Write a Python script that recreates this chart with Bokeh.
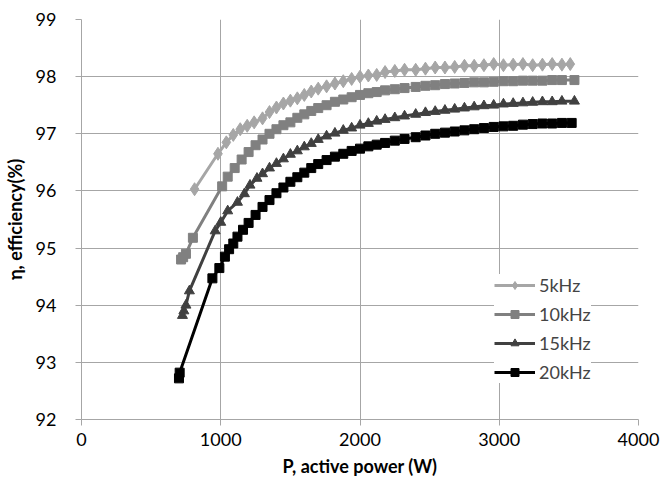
from bokeh.plotting import figure
from bokeh.models import Range1d, FixedTicker, Legend, LegendItem
from bokeh.embed import file_html
from bokeh.resources import INLINE

# ---- data ----
p5_x = [812, 980, 1040, 1090, 1140, 1190, 1240, 1300, 1350, 1400, 1450, 1500, 1550, 1600,
        1650, 1700, 1760, 1820, 1880, 1940, 2000, 2060, 2120, 2180, 2250, 2320, 2400, 2470,
        2540, 2610, 2680, 2750, 2820, 2890, 2960, 3030, 3100, 3170, 3240, 3310, 3380, 3450, 3510]
eff5 = [96.03, 96.65, 96.85, 96.98, 97.08, 97.14, 97.20, 97.27, 97.38, 97.46, 97.53, 97.58, 97.62, 97.68,
        97.74, 97.79, 97.83, 97.88, 97.92, 97.96, 98.00, 98.02, 98.03, 98.08, 98.10, 98.12, 98.12, 98.14,
        98.16, 98.16, 98.17, 98.19, 98.19, 98.20, 98.22, 98.20, 98.21, 98.22, 98.20, 98.21, 98.22, 98.21, 98.22]

p10_x = [715, 730, 750, 800, 1010, 1050, 1100, 1150, 1200, 1250, 1300, 1350, 1400, 1450, 1500, 1550,
         1600, 1650, 1700, 1760, 1820, 1880, 1940, 2000, 2060, 2120, 2180, 2250, 2320, 2400, 2470,
         2540, 2610, 2680, 2750, 2820, 2890, 2960, 3030, 3100, 3170, 3240, 3310, 3380, 3450, 3540]
eff10 = [94.80, 94.84, 94.90, 95.18, 96.08, 96.25, 96.40, 96.55, 96.68, 96.80, 96.90, 97.00, 97.08, 97.15, 97.20, 97.28,
         97.34, 97.40, 97.45, 97.50, 97.56, 97.60, 97.64, 97.68, 97.71, 97.73, 97.76, 97.78, 97.80, 97.82, 97.84,
         97.85, 97.87, 97.88, 97.89, 97.90, 97.90, 97.91, 97.92, 97.92, 97.93, 97.93, 97.93, 97.94, 97.94, 97.94]

p15_x = [725, 735, 750, 775, 960, 1000, 1050, 1120, 1170, 1210, 1260, 1300, 1350, 1400, 1450, 1500,
         1550, 1600, 1650, 1700, 1760, 1820, 1880, 1940, 2000, 2060, 2120, 2180, 2250, 2320, 2400,
         2470, 2540, 2610, 2680, 2750, 2820, 2890, 2960, 3030, 3100, 3170, 3240, 3310, 3380, 3450, 3540]
eff15 = [93.82, 93.90, 94.00, 94.25, 95.30, 95.45, 95.65, 95.80, 95.95, 96.10, 96.22, 96.30, 96.40, 96.48, 96.56, 96.64,
         96.70, 96.77, 96.83, 96.90, 96.96, 97.01, 97.06, 97.10, 97.15, 97.18, 97.22, 97.25, 97.28, 97.31, 97.34,
         97.37, 97.39, 97.41, 97.43, 97.45, 97.47, 97.49, 97.50, 97.52, 97.53, 97.54, 97.55, 97.56, 97.56, 97.57, 97.57]

p20_x = [700, 705, 940, 990, 1030, 1060, 1090, 1120, 1160, 1200, 1250, 1300, 1350, 1400, 1450, 1500,
         1550, 1600, 1650, 1700, 1760, 1820, 1880, 1940, 2000, 2060, 2120, 2180, 2250, 2320, 2400,
         2470, 2540, 2610, 2680, 2750, 2820, 2890, 2960, 3030, 3100, 3170, 3240, 3310, 3380, 3450, 3520]
eff20 = [92.72, 92.82, 94.47, 94.65, 94.85, 94.98, 95.08, 95.20, 95.32, 95.44, 95.58, 95.72, 95.84, 95.96, 96.06, 96.16,
         96.24, 96.32, 96.40, 96.47, 96.54, 96.60, 96.65, 96.70, 96.74, 96.78, 96.81, 96.84, 96.88, 96.91, 96.94,
         96.97, 97.00, 97.02, 97.04, 97.06, 97.08, 97.10, 97.12, 97.13, 97.14, 97.16, 97.17, 97.18, 97.18, 97.19, 97.19]

labels = ["5kHz", "10kHz", "15kHz", "20kHz"]
x_ticks = [0, 1000, 2000, 3000, 4000]
y_ticks = [92, 93, 94, 95, 96, 97, 98, 99]

FONT = "Lato"
GRID = "#A6A6A6"

p = figure(width=663, height=483, output_backend="svg", toolbar_location=None,
           x_range=Range1d(0, 4000), y_range=Range1d(92, 99),
           min_border_left=78, min_border_right=25, min_border_top=19, min_border_bottom=64)
p.outline_line_color = None
p.background_fill_color = "white"
p.border_fill_color = "white"

for ax in (p.xaxis[0], p.yaxis[0]):
    ax.axis_line_color = GRID
    ax.major_tick_line_color = GRID
    ax.major_tick_out = 6
    ax.major_tick_in = 0
    ax.minor_tick_line_color = None
    ax.major_label_text_font = FONT
    ax.major_label_text_font_size = "18px"
    ax.major_label_text_color = "#000000"
    ax.axis_label_text_font = FONT
    ax.axis_label_text_font_size = "18px"
    ax.axis_label_text_font_style = "bold"
    ax.axis_label_text_color = "#000000"

p.xaxis.ticker = FixedTicker(ticks=x_ticks)
p.yaxis.ticker = FixedTicker(ticks=y_ticks)
p.xaxis.axis_label = "P, active power (W)"
p.yaxis.axis_label = "η, efficiency(%)"
p.xaxis.major_label_standoff = 7
p.xaxis.axis_label_standoff = 6
p.yaxis.major_label_standoff = 19
p.yaxis.axis_label_standoff = 7

p.xgrid.ticker = FixedTicker(ticks=x_ticks)
p.ygrid.ticker = FixedTicker(ticks=y_ticks)
p.grid.grid_line_color = GRID
p.grid.grid_line_width = 1

series = [
    (p5_x, eff5, "#A6A6A6", "diamond", 13),
    (p10_x, eff10, "#808080", "square", 9),
    (p15_x, eff15, "#404040", "triangle", 10),
    (p20_x, eff20, "#000000", "square", 9),
]

items = []
for (xs, ys, col, mk, sz), lab in zip(series, labels):
    ln = p.line(xs, ys, line_color=col, line_width=3)
    sc = p.scatter(xs, ys, marker=mk, size=sz, fill_color=col, line_color=col)
    items.append(LegendItem(label=lab, renderers=[ln, sc]))

legend = Legend(items=items, location=(413, 36), glyph_width=41, glyph_height=20,
                label_height=20, spacing=7, padding=6, margin=0, label_standoff=4,
                label_text_font=FONT, label_text_font_size="18px",
                border_line_color=None, background_fill_color="white", background_fill_alpha=1.0)
p.add_layout(legend, "center")

open("out.html", "w").write(file_html(p, INLINE))
